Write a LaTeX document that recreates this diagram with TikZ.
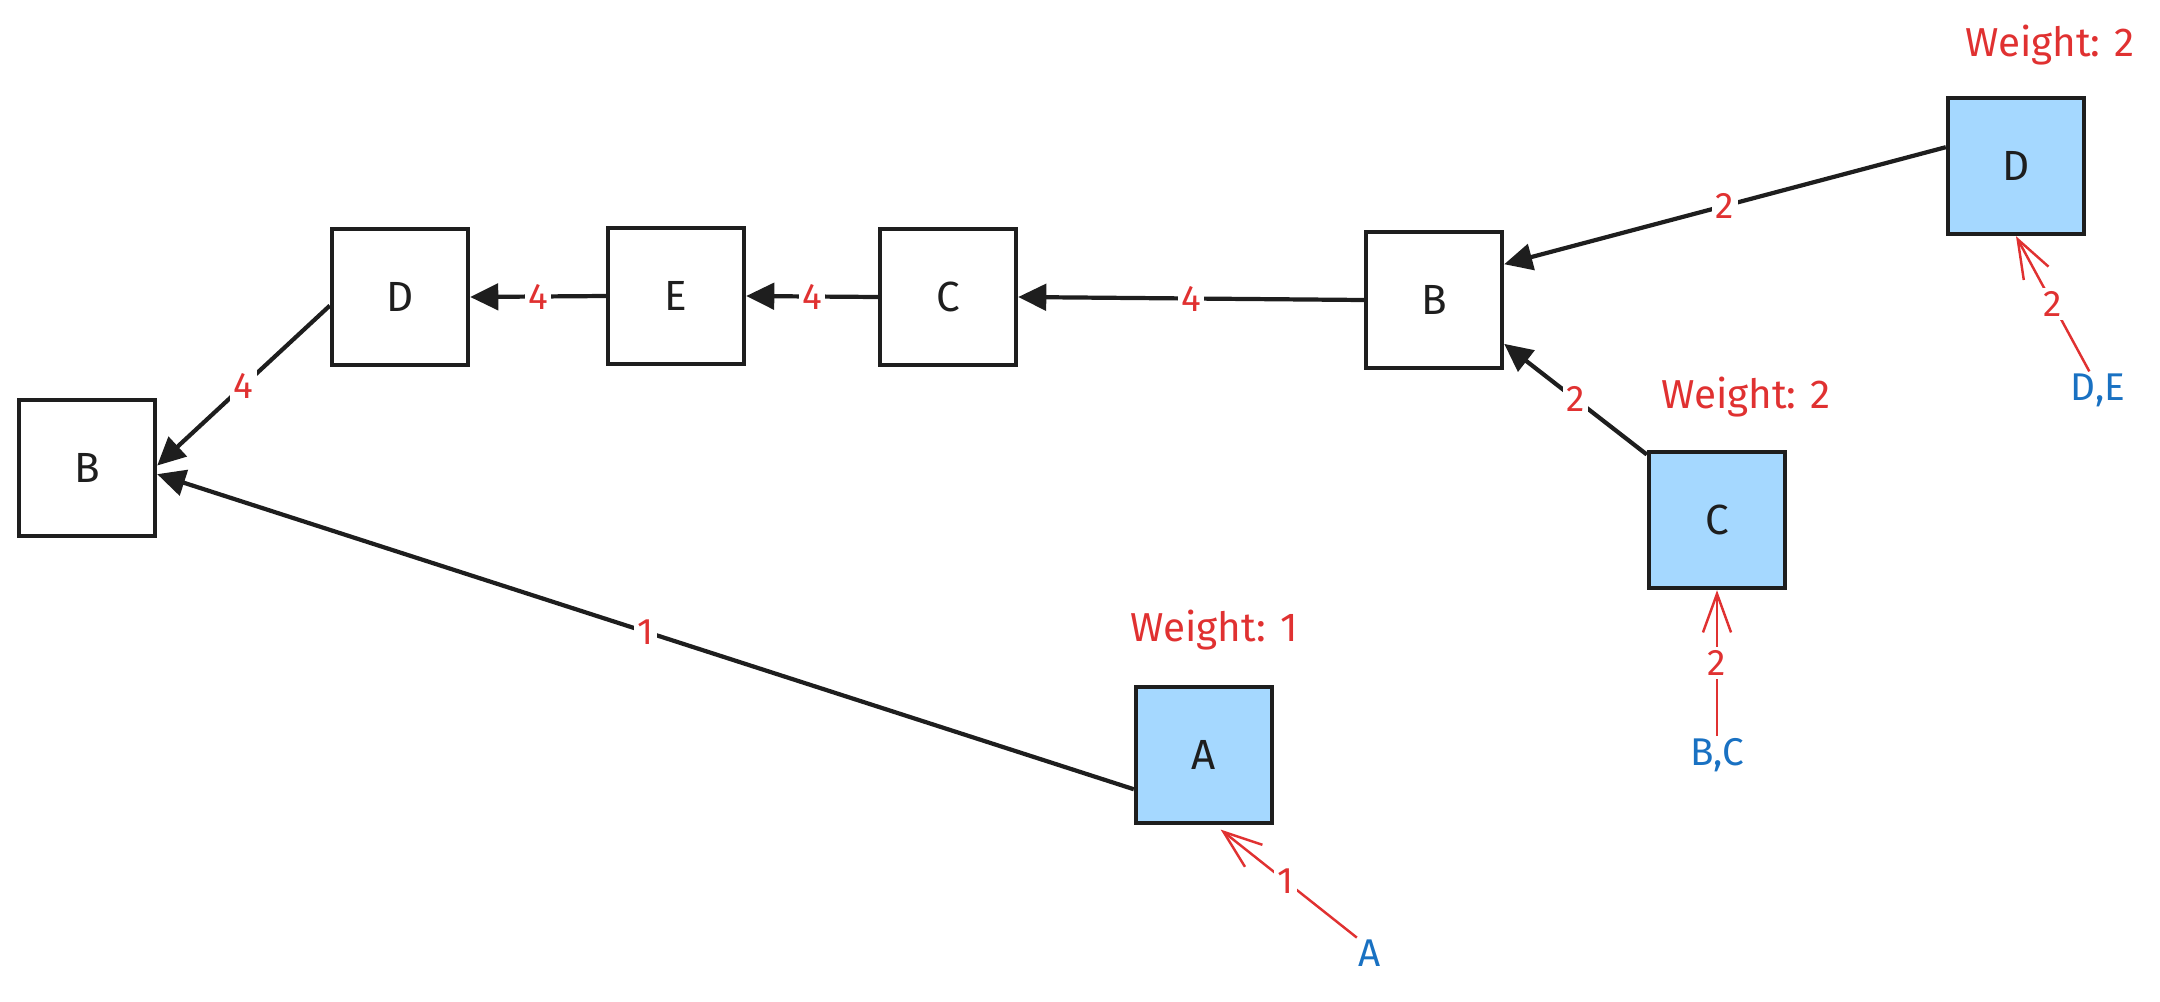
\documentclass[tikz,border=0pt]{standalone}
\usepackage{fontspec}
\setmainfont{Fira Sans}
\usetikzlibrary{arrows.meta}
\definecolor{ink}{HTML}{1E1E1E}
\definecolor{redc}{HTML}{E03131}
\definecolor{bluec}{HTML}{1971C2}
\definecolor{fillc}{HTML}{A5D8FF}
\begin{document}
\begin{tikzpicture}[x=0.02cm,y=-0.02cm,
 box/.style={draw=ink, line width=2.5pt, minimum size=2.72cm, inner sep=0pt, font=\fontsize{24}{28}\selectfont, text=ink},
 leaf/.style={box, fill=fillc},
 conn/.style={draw=ink, line width=2.4pt, -{Triangle[length=16pt,width=15pt]}},
 rconn/.style={draw=redc, line width=1.4pt, -{Straight Barb[length=22pt,width=16pt]}},
 wlab/.style={text=redc, font=\fontsize{21}{25}\selectfont, fill=white, inner sep=2pt},
 weight/.style={text=redc, font=\fontsize{23}{27}\selectfont},
 key/.style={text=bluec, font=\fontsize{22}{26}\selectfont, inner sep=1pt}]
\useasboundingbox (0,0) rectangle (2160,1001);

\node[box] (Bl) at (87,468) {B};
\node[box] (Dm) at (400,297) {D};
\node[box] (Em) at (676,296) {E};
\node[box] (Cm) at (948,297) {C};
\node[box] (Bu) at (1434,300) {B};
\node[leaf] (Dr) at (2016,166) {D};
\node[leaf] (Cr) at (1717,520) {C};
\node[leaf] (Ar) at (1204,755) {A};

\node[weight] (wD) at (2050,45) {Weight: 2};
\node[weight] (wC) at (1746,397) {Weight: 2};
\node[weight] (wA) at (1214,630) {Weight: 1};

\node[key] (de) at (2098,390) {D,E};
\node[key] (bc) at (1717,755) {B,C};
\node[key] (ak) at (1370,953) {A};

\draw[conn] (Dr.165) -- node[wlab]{2} (Bu.27);
\draw[conn] (Cr.137) -- node[wlab]{2} (Bu.-32);
\draw[conn] (Bu.west) -- node[wlab]{4} (Cm.east);
\draw[conn] (Cm.west) -- node[wlab]{4} (Em.east);
\draw[conn] (Em.west) -- node[wlab]{4} (Dm.east);
\draw[conn] (Dm.187) -- node[wlab]{4} (Bl.2);
\draw[conn] (Ar.206) -- node[wlab]{1} (Bl.-5);

\draw[rconn] (de.115) -- node[wlab]{2} (Dr.south);
\draw[rconn] (bc.north) -- node[wlab]{2} (Cr.south);
\draw[rconn, shorten >=4pt] (ak.north west) -- node[wlab]{1} (Ar.-81);
\end{tikzpicture}
\end{document}
